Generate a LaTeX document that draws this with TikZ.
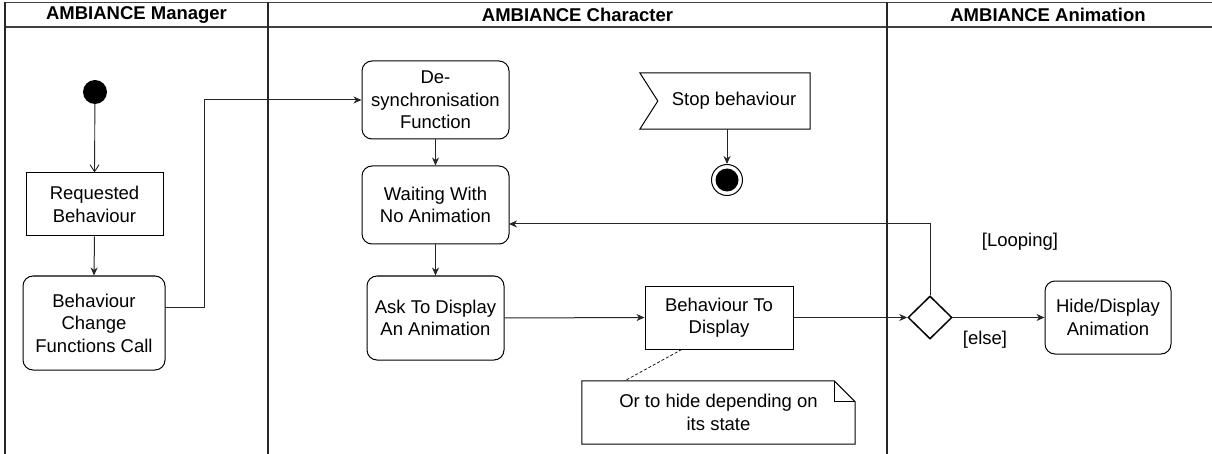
\documentclass[tikz,border=0pt]{standalone}
\usepackage{fontspec}
\setmainfont{Liberation Sans}
\usetikzlibrary{arrows.meta,shapes.geometric,calc}
\tikzset{
  lane/.style={line width=1.6pt, black!85},
  hline/.style={line width=1.2pt, black!75},
  actbox/.style={rectangle, draw, line width=1pt, rounded corners=10pt, align=center, inner sep=0pt},
  objbox/.style={rectangle, draw, line width=1pt, align=center, inner sep=0pt},
  arr/.style={line width=1pt, black!85, -{Stealth[length=8pt,width=7pt,inset=2.5pt]}},
  openarr/.style={line width=0.9pt, black!85, -{Straight Barb[length=7pt,width=9pt]}},
  headtxt/.style={font=\fontsize{18.5}{22.5}\selectfont\bfseries},
  guard/.style={inner sep=0pt}
}
\begin{document}
\begin{tikzpicture}[x=1pt,y=-1pt,font=\fontsize{18.5}{22.5}\selectfont]
\useasboundingbox[fill=white] (0,0) rectangle (1212,454);
% swimlanes
\draw[hline] (5,2.5) -- (1212,2.5);
\draw[hline] (5,27) -- (1212,27);
\draw[lane] (5,2.5) -- (5,454);
\draw[lane] (268,2.5) -- (268,454);
\draw[lane] (887,2.5) -- (887,454);
\node[headtxt] (h1) at (136.5,15) {AMBIANCE Manager};
\node[headtxt] (h2) at (577.5,15) {AMBIANCE Character};
\node[headtxt] (h3) at (1048,15) {AMBIANCE Animation};

% Manager lane
\node[circle, fill=black, minimum size=24pt, inner sep=0pt] (start) at (95,92) {};
\node[objbox, minimum width=137pt, minimum height=63pt] (req) at (94.5,204.5) {Requested\\Behaviour};
\node[actbox, minimum width=142pt, minimum height=94pt] (bcfc) at (94,323) {Behaviour\\Change\\Functions Call};

% Character lane
\node[actbox, minimum width=147pt, minimum height=78pt] (desync) at (435.5,100) {De-\\synchronisation\\Function};
\node[actbox, minimum width=147pt, minimum height=78pt] (wait) at (435.5,205) {Waiting With\\No Animation};
\node[actbox, minimum width=137pt, minimum height=84pt] (ask) at (435.5,318) {Ask To Display\\An Animation};
\node[objbox, minimum width=148pt, minimum height=63pt] (btd) at (719,317.5) {Behaviour To\\Display};

% signal receipt
\node[inner sep=0pt, minimum width=152pt, minimum height=56pt] (stop) at (734,101) {Stop behaviour};
\draw[line width=1pt] ([xshift=-18pt]stop.north west) -- (stop.north east) -- (stop.south east) -- ([xshift=-18pt]stop.south west) -- (stop.west) -- cycle;
\node[circle, draw, line width=1pt, minimum size=31pt, inner sep=0pt] (final) at (727,180) {};
\node[circle, fill=black, minimum size=23pt, inner sep=0pt] (finalin) at (final) {};

% note
\node[inner sep=0pt, minimum width=273pt, minimum height=63pt, align=center] (note) at (718.5,412.5) {Or to hide depending on\\its state};
\draw[line width=1pt] (note.north west) -- ([xshift=-21pt]note.north east) -- ([yshift=-21pt]note.north east) -- (note.south east) -- (note.south west) -- cycle;
\draw[line width=1pt] ([xshift=-21pt]note.north east) -- ([xshift=-21pt,yshift=-21pt]note.north east) -- ([yshift=-21pt]note.north east);

% Animation lane
\node[diamond, draw, line width=1.5pt, minimum width=44pt, minimum height=43pt, inner sep=0pt] (dia) at (930,317.5) {};
\node[actbox, minimum width=126pt, minimum height=73pt] (hide) at (1108,317.5) {Hide/Display\\Animation};
\node[guard] (loopl) at (1020,242) {[Looping]};
\node[guard] (elsel) at (985,340) {[else]};

% connectors
\coordinate (bcout) at (165,307);
\coordinate (bend) at (204,0);
\coordinate (loopin) at (509,224);
\coordinate (btdfoot) at ($(btd.south west)!0.25!(btd.south east)$);
\coordinate (notetop) at ($(note.north west)!0.157!(note.north east)$);

\draw[openarr] (start) -- (req.north);
\draw[arr] (req.south) -- (bcfc.north);
\draw[arr] (bcout) -- (bcout -| bend) |- (desync.west);
\draw[arr] (desync.south) -- (wait.north);
\draw[arr] (wait.south) -- (ask.north);
\draw[arr] (ask.east) -- (btd.west);
\draw[arr] (btd.east) -- (dia.west);
\draw[arr] (dia.east) -- (hide.west);
\draw[arr] (dia.north) |- (loopin);
\draw[arr] (stop.south -| final) -- (final.north);
\draw[dashed, line width=0.7pt, dash pattern=on 3pt off 2pt] (btdfoot) -- (notetop);
\end{tikzpicture}
\end{document}
